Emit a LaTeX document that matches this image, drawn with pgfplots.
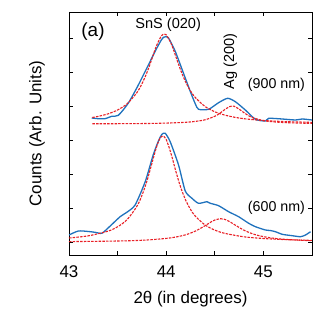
\documentclass[border=0pt]{standalone}
\usepackage{pgfplots}
\pgfplotsset{compat=1.18}
\usepackage{fontspec}
\setmainfont{Liberation Sans}

\definecolor{expblue}{RGB}{31,114,189}
\definecolor{fitred}{RGB}{232,32,38}

\begin{document}
\begin{tikzpicture}
\begin{axis}[
    scale only axis,
    width=243bp,
    height=243bp,
    xmin=43, xmax=45.5,
    ymin=0, ymax=243,
    xtick={43,44,45},
    minor xtick={43.5,44.5},
    ytick={13,47,81,115,149,183,217},
    yticklabels={},
    tick align=inside,
    major tick length=4bp,
    minor tick length=4bp,
    tick style={black, line width=0.6bp},
    axis line style={line width=0.8bp},
    xticklabel style={font=\fontsize{17}{20}\selectfont, yshift=-7bp},
    /pgf/number format/assume math mode=true,
    xlabel={2θ (in degrees)},
    xlabel style={font=\fontsize{17}{20}\selectfont, at={(axis description cs:0.5,-0.18)}, anchor=center},
    ylabel={Counts (Arb. Units)},
    ylabel style={font=\fontsize{17}{20}\selectfont, at={(axis description cs:-0.132,0.5)}, anchor=center},
    clip=true,
]
% 900 nm, measured
\addplot[expblue, line width=1.3bp, smooth, tension=0.4] coordinates {
(43.234,137) (43.30,136.3) (43.371,136.3) (43.44,138.7) (43.508,139.7)
(43.611,152) (43.715,170.3) (43.818,190.3) (43.904,207) (43.95,215)
(43.973,217.7) (44.0,218.5) (44.024,217) (44.093,203.7) (44.196,177)
(44.25,163) (44.30,151) (44.333,145.7) (44.436,145.7) (44.539,152.3)
(44.632,156.7) (44.711,153.3) (44.814,145) (44.918,135.7) (45.021,134)
(45.055,136.7) (45.193,136) (45.33,135) (45.4,136) (45.5,135)};
% 900 nm, SnS (020) fit
\addplot[fitred, line width=1.1bp, dash pattern=on 2.5bp off 1.2bp, smooth] coordinates {
(43.24,137.5) (43.3,138.6) (43.4,141.1) (43.5,145.0) (43.6,151.4)
(43.7,162.6) (43.75,171.1) (43.8,182.0) (43.85,195.4) (43.9,209.2)
(43.95,219.1) (43.98,221) (44.0,220.2) (44.05,211.7) (44.1,198.2)
(44.15,184.5) (44.2,173.0) (44.25,164.1) (44.3,157.4) (44.4,148.5)
(44.5,143.2) (44.6,140.0) (44.7,137.8) (44.8,136.3) (44.9,135.3)
(45.0,134.5) (45.2,133.5) (45.4,132.9) (45.5,132.6)};
% 900 nm, Ag (200) fit
\addplot[fitred, line width=1.1bp, dash pattern=on 2.5bp off 1.2bp, smooth] coordinates {
(43.24,131.2) (43.5,131.3) (43.8,131.5) (44.0,131.9) (44.2,132.7)
(44.3,133.6) (44.4,135.2) (44.5,138.7) (44.55,141.6) (44.6,145.2)
(44.65,148.3) (44.68,149) (44.7,148.7) (44.75,145.9) (44.8,142.3)
(44.85,139.2) (44.9,137.0) (45.0,134.4) (45.1,133.2) (45.2,132.5)
(45.3,132.1) (45.5,131.6)};
% 600 nm, measured
\addplot[expblue, line width=1.3bp, smooth, tension=0.4] coordinates {
(43.0,20) (43.096,24) (43.2,23.5) (43.268,22.7) (43.337,21.7)
(43.402,27) (43.526,38.3) (43.595,42.7) (43.68,50) (43.784,73.3)
(43.866,100) (43.92,114) (43.956,120.7) (43.99,121.7) (44.041,113.3)
(44.127,90) (44.196,64) (44.265,56.7) (44.333,51.7) (44.42,53.3)
(44.454,51.7) (44.539,49.3) (44.642,43.3) (44.745,38.3) (44.849,31.7)
(44.918,28.3) (45.021,25) (45.07,24.5) (45.124,23.3) (45.193,20.7)
(45.296,19.3) (45.381,18.3) (45.433,20) (45.485,23.3)};
% 600 nm, SnS (020) fit
\addplot[fitred, line width=1.1bp, dash pattern=on 2.5bp off 1.2bp, smooth] coordinates {
(43.0,17.0) (43.2,19.2) (43.4,23.8) (43.5,28.2) (43.6,35.6)
(43.7,49.0) (43.75,59.5) (43.8,73.4) (43.85,90.6) (43.9,107.9)
(43.935,116.4) (43.965,119) (44.0,115.5) (44.05,101.3) (44.1,83.4)
(44.15,67.4) (44.2,54.9) (44.25,45.6) (44.3,38.8) (44.4,30.0)
(44.5,24.9) (44.6,21.7) (44.8,18.2) (45.0,16.5) (45.2,15.5) (45.5,14.6)};
% 600 nm, Ag (200) fit
\addplot[fitred, line width=1.1bp, dash pattern=on 2.5bp off 1.2bp, smooth] coordinates {
(43.0,13.4) (43.3,13.7) (43.6,14.2) (43.8,15.0) (44.0,16.6)
(44.1,18.0) (44.2,20.2) (44.3,23.9) (44.4,29.3) (44.45,32.4)
(44.5,35.0) (44.56,36.3) (44.6,35.7) (44.65,33.5) (44.7,30.5)
(44.8,24.8) (44.9,20.8) (45.0,18.4) (45.1,16.8) (45.2,15.8)
(45.35,14.9) (45.5,14.3)};

\node[font=\fontsize{19}{22}\selectfont] at (axis cs:43.247,223) {(a)};
\node[font=\fontsize{14.6}{17}\selectfont] at (axis cs:44.02,230) {SnS (020)};
\node[font=\fontsize{14.6}{17}\selectfont, rotate=90] at (axis cs:44.66,193.5) {Ag (200)};
\node[font=\fontsize{14.3}{17}\selectfont] at (axis cs:45.134,170) {(900 nm)};
\node[font=\fontsize{14.3}{17}\selectfont] at (axis cs:45.134,47) {(600 nm)};
\end{axis}
\path (current axis.south west) ++(-69bp,-57bp) coordinate (bbsw);
\path (current axis.north east) ++(11bp,12bp) coordinate (bbne);
\path (bbsw) rectangle (bbne);
\end{tikzpicture}
\end{document}
